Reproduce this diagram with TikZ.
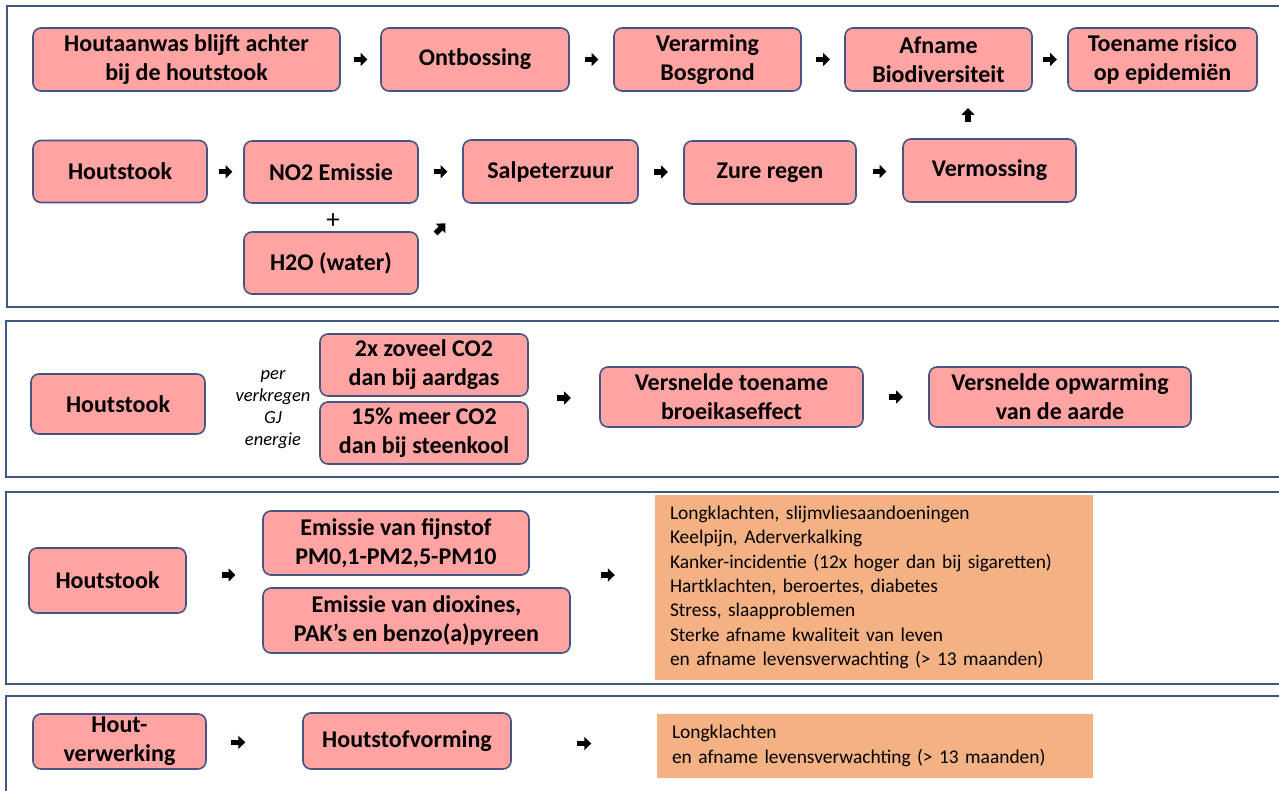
\documentclass[tikz,border=0pt]{standalone}
\usepackage{fontspec}
\setmainfont{Carlito}
\usetikzlibrary{positioning,calc,arrows.meta}

\definecolor{boxfill}{RGB}{255,163,163}
\definecolor{boxline}{RGB}{72,84,130}
\definecolor{panelline}{RGB}{62,88,132}
\definecolor{oranje}{RGB}{244,177,131}

\begin{document}
\begin{tikzpicture}[
    x=1pt, y=-1pt, % 1 eenheid = 1 pixel van het origineel
    stap/.style={
        draw=boxline, line width=1.6pt, fill=boxfill,
        rounded corners=8pt, align=center, inner sep=2pt,
        font=\bfseries\fontsize{24}{29}\selectfont
    },
    maat/.style 2 args={minimum width=#1pt, minimum height=#2pt},
    gevolg/.style={
        fill=oranje, align=left, inner sep=0pt,
        font=\fontsize{19.4}{24.3}\selectfont
    },
    toelichting/.style={
        align=center, font=\itshape\fontsize{18.5}{22}\selectfont
    },
    paneel/.style={draw=panelline, line width=2pt},
    pijl/.style={
        black, line width=5.5pt, -{Triangle[length=7pt,width=13pt]}
    }
    ]
    \fill[white] (0,0) rectangle (1279,791);
    \useasboundingbox (0,0) rectangle (1279,791);

    % Panelen (rechts open)
    \draw[paneel] (1290,6) -- (7,6) -- (7,307) -- (1290,307);
    \draw[paneel] (1290,321) -- (6,321) -- (6,477) -- (1290,477);
    \draw[paneel] (1290,492) -- (6,492) -- (6,684) -- (1290,684);
    \draw[paneel] (1290,696) -- (6,696) -- (6,800);

    % Paneel 1: bovenste rij
    \node[stap, maat={307}{63}] (hout) at (186.5,59.5) {Houtaanwas blijft achter\\bij de houtstook};
    \node[stap, maat={188}{63}] (ontb) at (475,59.5) {Ontbossing};
    \node[stap, maat={187}{63}] (verarm) at (707.5,59.5) {Verarming\\Bosgrond};
    \node[stap, maat={187}{63}] (afname) at (938.5,59.5) {Afname\\Biodiversiteit};
    \node[stap, maat={189}{63}] (toename) at (1162.5,59.5) {Toename risico\\op epidemiën};

    % Paneel 1: tweede rij
    \node[stap, maat={174}{62}] (stook1) at (120,171.5) {Houtstook};
    \node[stap, maat={174}{62}] (no2) at (331,172) {NO2 Emissie};
    \node[stap, maat={174}{62}] (h2o) at (331,263) {H2O (water)};
    \node[stap, maat={175}{63}] (salp) at (550.5,171.5) {Salpeterzuur};
    \node[stap, maat={172}{63}] (zure) at (770,172.5) {Zure regen};
    \node[stap, maat={173}{63}] (verm) at (989.5,170.5) {Vermossing};
    \node[font=\fontsize{27}{30}\selectfont] (plus) at ($(no2.south)!.5!(h2o.north)+(2,4)$) {+};

    \foreach \a/\b in {hout/ontb, ontb/verarm, verarm/afname, afname/toename,
                       stook1/no2, no2/salp, salp/zure, zure/verm} {
        \draw[pijl] ($(\a.east)!.5!(\b.west)+(-7,0)$) -- +(14,0);
    }
    \draw[pijl] ($(verm.north)!.5!(afname.south)+(4,7)$) -- +(0,-14);
    \draw[pijl] ($(h2o.east)!.5!(salp.south west)+(-5,0)$) -- +(10,-10);

    % Paneel 2: CO2
    \node[stap, maat={174}{60}] (stook2) at (118,404) {Houtstook};
    \node[toelichting] (pergj) at (273,410) {per\\verkregen\\GJ\\energie};
    \node[stap, maat={208}{62}] (co2a) at (424,365) {2x zoveel CO2\\dan bij aardgas};
    \node[stap, maat={208}{62}] (co2b) at (424,433) {15\% meer CO2\\dan bij steenkool};
    \node[stap, maat={263}{60}] (broei) at (731.5,397) {Versnelde toename\\broeikaseffect};
    \node[stap, maat={262}{60}] (opwarm) at (1060,397) {Versnelde opwarming\\van de aarde};

    \coordinate (co2mid) at ($(co2a.south east)!.5!(co2b.north east)$);
    \draw[pijl] ($(co2mid)!.5!(broei.west)+(-7,0)$) -- +(14,0);
    \draw[pijl] ($(broei.east)!.5!(opwarm.west)+(-7,0)$) -- +(14,0);

    % Paneel 3: fijnstof
    \node[stap, maat={157}{65}] (stook3) at (107.5,580.5) {Houtstook};
    \node[stap, maat={266}{64}] (fijn) at (396,543) {Emissie van fijnstof\\PM0,1-PM2,5-PM10};
    \node[stap, maat={307}{65}] (diox) at (416.5,620.5) {Emissie van dioxines,\\PAK’s en benzo(a)pyreen};
    \node[gevolg, maat={438}{185}, text width=408pt] (klacht1) at (874,587.5)
        {Longklachten, slijmvliesaandoeningen\\
         Keelpijn, Aderverkalking\\
         Kanker-incidentie (12x hoger dan bij sigaretten)\\
         Hartklachten, beroertes, diabetes\\
         Stress, slaapproblemen\\
         Sterke afname kwaliteit van leven\\
         en afname levensverwachting (> 13 maanden)};

    \coordinate (emmid) at ($(fijn.south west)!.5!(diox.north west)$);
    \draw[pijl] ($(stook3.east)!.5!(emmid)+(-3,-6)$) -- +(14,0);
    \draw[pijl] ($(diox.east)!.5!(klacht1.west)+(-12,-29)$) -- +(14,0);

    % Paneel 4: houtbewerking
    \node[stap, maat={173}{55}] (verwerk) at (119.5,741.5) {Hout-\\verwerking};
    \node[stap, maat={208}{56}] (stof) at (407,741) {Houtstofvorming};
    \node[gevolg, maat={436}{64}, text width=406pt] (klacht2) at (875,746)
        {Longklachten\\
         en afname levensverwachting (> 13 maanden)};

    \draw[pijl] ($(verwerk.east)!.33!(stof.west)+(-7,1)$) -- +(14,0);
    \draw[pijl] ($(stof.east)!.5!(klacht2.west)+(-7,0)$) -- +(14,0);
\end{tikzpicture}
\end{document}
